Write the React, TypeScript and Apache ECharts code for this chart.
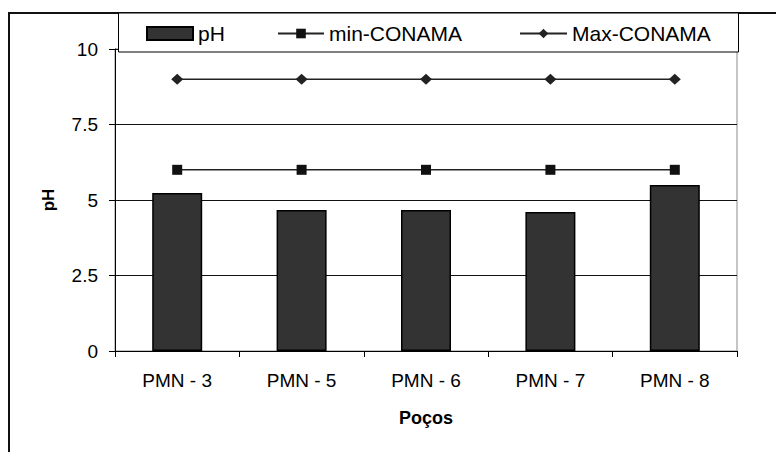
import React, { useEffect, useRef } from "react";
import * as echarts from "echarts";

// Wells sampled
const categories: string[] = ["PMN - 3", "PMN - 5", "PMN - 6", "PMN - 7", "PMN - 8"];
// Measured pH per well
const phValues: number[] = [5.23, 4.67, 4.67, 4.6, 5.5];
// CONAMA reference limits
const minConama: number[] = [6, 6, 6, 6, 6];
const maxConama: number[] = [9, 9, 9, 9, 9];
// Y axis range and step
const yMin = 0;
const yMax = 10;
const yStep = 2.5;

const FONT = "'Liberation Sans', Arial, sans-serif";

export default function App() {
  const ref = useRef<HTMLDivElement>(null);

  useEffect(() => {
    if (!ref.current) return;
    const chart = echarts.init(ref.current, undefined, { renderer: "svg" });

    const legendText = { fontFamily: FONT, fontSize: 21, color: "#000" };

    chart.setOption({
      animation: false,
      backgroundColor: "#fff",
      textStyle: { fontFamily: FONT },
      grid: {
        left: 115,
        top: 49,
        right: 39,
        bottom: 101,
        show: true,
        borderColor: "#8a8a8a",
        borderWidth: 1,
        backgroundColor: "transparent",
      },
      graphic: [
        {
          type: "rect",
          z: 3,
          shape: { x: 9, y: 13, width: 820, height: 500 },
          style: { fill: "none", stroke: "#111", lineWidth: 2 },
        },
        {
          type: "rect",
          z: 3,
          shape: { x: 118.5, y: 13, width: 620, height: 39 },
          style: { fill: "#fff", stroke: "#000", lineWidth: 1 },
        },
      ],
      legend: [
        {
          data: [{ name: "pH", icon: "rect" }],
          left: 146,
          top: 23,
          padding: 0,
          itemWidth: 46,
          itemHeight: 13,
          textStyle: legendText,
        },
        {
          data: ["min-CONAMA"],
          left: 277,
          top: 23,
          padding: 0,
          itemWidth: 46,
          itemHeight: 12,
          textStyle: legendText,
        },
        {
          data: ["Max-CONAMA"],
          left: 519,
          top: 23,
          padding: 0,
          itemWidth: 47,
          itemHeight: 12,
          textStyle: legendText,
        },
      ],
      xAxis: {
        type: "category",
        data: categories,
        boundaryGap: true,
        name: "Poços",
        nameLocation: "middle",
        nameGap: 58,
        nameTextStyle: { fontFamily: FONT, fontSize: 18, fontWeight: "bold", color: "#000" },
        axisLine: { lineStyle: { color: "#000", width: 1 } },
        axisTick: { show: true, length: 6, alignWithLabel: false, lineStyle: { color: "#000" } },
        axisLabel: { fontFamily: FONT, fontSize: 19, color: "#000", margin: 20 },
        splitLine: { show: false },
      },
      yAxis: {
        type: "value",
        min: yMin,
        max: yMax,
        interval: yStep,
        name: "pH",
        nameLocation: "middle",
        nameGap: 58,
        nameTextStyle: { fontFamily: FONT, fontSize: 17, fontWeight: "bold", color: "#000" },
        axisLine: { show: true, lineStyle: { color: "#000", width: 1 } },
        axisTick: { show: true, length: 6, lineStyle: { color: "#000" } },
        axisLabel: { fontFamily: FONT, fontSize: 19, color: "#000", margin: 17 },
        splitLine: { show: true, lineStyle: { color: "#111", width: 1 } },
      },
      series: [
        {
          name: "pH",
          type: "bar",
          data: phValues,
          barWidth: 50,
          itemStyle: { color: "#333333", borderColor: "#000", borderWidth: 1.5 },
        },
        {
          name: "min-CONAMA",
          type: "line",
          data: minConama,
          symbol: "rect",
          symbolSize: 10,
          itemStyle: { color: "#111" },
          lineStyle: { color: "#222", width: 1.5 },
        },
        {
          name: "Max-CONAMA",
          type: "line",
          data: maxConama,
          symbol: "diamond",
          symbolSize: [12, 11],
          itemStyle: { color: "#222" },
          lineStyle: { color: "#222", width: 1.5 },
        },
      ],
    });

    return () => chart.dispose();
  }, []);

  return (
    <div
      ref={ref}
      style={{ position: "fixed", left: 0, top: 0, width: 776, height: 452, background: "#fff" }}
    />
  );
}
